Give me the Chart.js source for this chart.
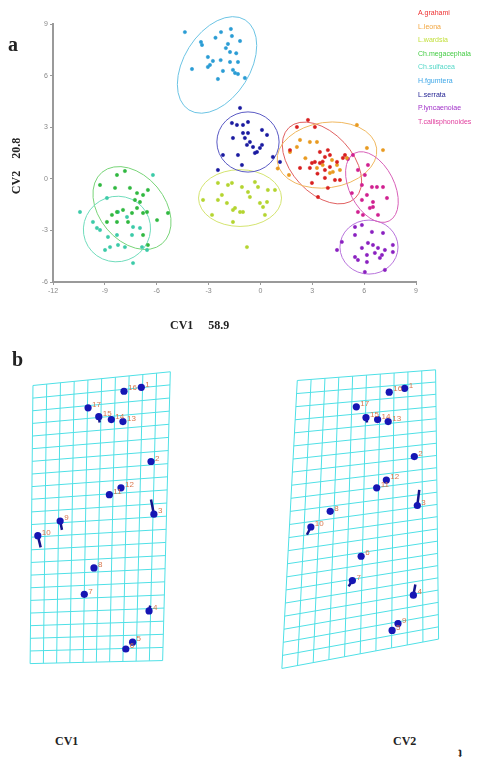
<!DOCTYPE html>
<html><head><meta charset="utf-8">
<script src="https://cdn.jsdelivr.net/npm/chart.js@4.4.1/dist/chart.umd.min.js"></script>
<style>
html,body{margin:0;padding:0;background:#fff;width:487px;height:760px;overflow:hidden;position:relative}
.lbl{position:absolute;font-family:"Liberation Serif","DejaVu Serif",serif;font-weight:bold;color:#222;white-space:pre;line-height:1}
canvas{position:absolute}
</style></head>
<body>
<canvas id="cA" width="487" height="340" style="left:0;top:0"></canvas>
<canvas id="cB1" width="243" height="330" style="left:0;top:360px"></canvas>
<canvas id="cB2" width="244" height="330" style="left:243px;top:360px"></canvas>
<div class="lbl" style="left:8px;top:34px;font-size:20px">a</div>
<div class="lbl" style="left:12px;top:349px;font-size:20px">b</div>
<div class="lbl" style="left:170px;top:319px;font-size:12px">CV1     58.9</div>
<div class="lbl" style="left:-22px;top:160px;font-size:12px;transform:rotate(-90deg);width:76px;text-align:center">CV2    20.8</div>
<div class="lbl" style="left:55px;top:735px;font-size:12px">CV1</div>
<div class="lbl" style="left:393px;top:735px;font-size:12px">CV2</div>
<div class="lbl" style="left:458px;top:747px;font-size:12px">ʇ</div>
<script>
// ---------- Panel a data ----------
const speciesNames = ["A.grahami","L.leona","L.wardsia","Ch.megacephala","Ch.sulfacea","H.fgumtera","L.serrata","P.lyncaenoiae","T.callisphonoides"];
const legendColors = ["#ee3030","#f2a640","#c4e040","#44cc44","#55d8c8","#40a8e8","#1c1c90","#a030c8","#e03c9c"];
const pointColors  = ["#d82020","#e89a20","#b4d430","#30b840","#3ccaa8","#2a9cd4","#1a1aa0","#8a20c0","#d02090"];
const ellipseColors= ["#e06060","#f0b860","#d4e470","#78d478","#70dcbc","#6cc4e4","#5a5ac4","#b874dc","#d860b8"];

const ptsGrahami = [[2.75,3.42],[2.11,3.01],[3.15,3.01],[1.71,1.67],[3.44,1.56],[3.90,1.67],[4.02,1.38],[3.73,1.27],[2.98,0.92],[3.15,0.98],[3.44,0.92],[2.86,0.63],[3.73,0.51],[4.02,0.69],[4.43,0.98],[4.77,1.21],[4.89,1.38],[3.73,0.05],[4.31,-0.07],[2.98,-0.24],[3.90,-0.53],[3.33,-1.06],[2.29,0.63],[4.60,-0.07],[3.6,1.0],[3.3,0.3]];
const ptsLeona = [[2.86,2.14],[3.27,2.14],[2.11,1.85],[1.71,1.56],[1.65,0.22],[4.14,1.09],[4.43,0.80],[4.60,0.51],[4.19,0.40],[6.16,1.79],[7.09,1.67],[5.58,3.13],[4.02,0.34],[3.27,0.63],[5.00,1.21],[1.0,0.6],[2.29,2.26],[3.6,0.8],[2.6,1.2]];
const ptsWardsia = [[-1.65,-0.24],[-1.07,-0.48],[-0.72,-0.77],[-0.14,-0.48],[0.43,-0.65],[0.84,-0.65],[-0.61,-1.06],[-0.03,-1.41],[0.15,-1.64],[-1.47,-1.70],[-1.01,-1.93],[0.38,-1.35],[-0.78,-3.97],[-2.46,-0.24],[-1.88,-0.36],[-2.23,-0.94],[-2.46,-1.23],[-1.94,-1.41],[-1.59,-1.81],[-1.18,-1.93],[-3.32,-1.23],[-2.80,-2.10],[-1.59,-2.51],[0.26,-2.10],[-0.32,-0.19]];
const ptsMegacephala = [[-7.84,0.45],[-8.30,0.22],[-9.28,-0.36],[-8.41,-0.53],[-7.14,-0.83],[-6.79,-0.94],[-6.51,-0.65],[-6.97,-1.35],[-6.56,-1.93],[-6.79,-1.99],[-7.14,-1.70],[-7.43,-1.99],[-8.30,-1.93],[-7.95,-1.81],[-8.59,-2.10],[-8.88,-2.51],[-8.30,-2.51],[-7.66,-2.51],[-5.98,-2.40],[-5.35,-1.99],[-6.79,-3.27],[-6.51,-3.85],[-7.26,-1.23],[-7.55,-0.53]];
const ptsSulfacea = [[-8.88,-1.12],[-9.69,-2.51],[-9.46,-2.86],[-8.82,-3.38],[-8.99,-4.14],[-8.70,-3.97],[-8.24,-3.85],[-7.84,-3.97],[-8.30,-3.27],[-7.43,-3.27],[-7.37,-2.80],[-6.97,-2.86],[-6.85,-3.97],[-7.37,-4.90],[-8.24,-1.93],[-7.72,-2.22],[-10.44,-1.93],[-6.22,0.22],[-9.28,-2.98],[-6.56,-4.14]];
const ptsFgumtera = [[-4.37,8.53],[-2.28,8.53],[-1.71,8.71],[-1.65,8.30],[-1.18,8.01],[-3.44,7.95],[-3.38,7.78],[-1.88,7.84],[-1.76,7.37],[-3.04,7.08],[-2.75,6.85],[-2.92,6.62],[-3.04,6.50],[-2.17,6.27],[-1.76,6.79],[-1.30,6.79],[-1.59,6.33],[-1.47,6.15],[-1.30,6.09],[-3.96,6.38],[-2.46,5.80],[-0.90,5.86],[-2.0,7.6],[-2.6,8.2],[-1.4,7.3],[-2.3,6.9]];
const ptsSerrata = [[-1.18,4.12],[-1.65,3.24],[-1.36,3.13],[-1.01,3.13],[0.09,2.84],[-1.59,2.37],[-1.01,2.66],[-0.72,2.66],[-0.90,2.37],[-0.61,2.14],[-0.78,1.97],[-0.43,1.85],[-0.20,1.56],[0.09,1.97],[-0.03,1.79],[0.38,2.55],[-1.30,1.38],[-0.32,1.50],[0.72,1.27],[1.13,0.98],[-1.07,0.80],[-2.17,1.38],[-2.46,0.51],[-0.72,3.30]];
const ptsLyncaenoiae = [[5.47,-2.80],[5.87,-2.69],[6.45,-3.09],[7.09,-3.15],[5.47,-3.27],[4.71,-3.67],[6.22,-3.73],[6.51,-3.85],[7.66,-3.85],[5.87,-4.02],[6.80,-4.02],[7.20,-4.14],[4.43,-4.14],[5.47,-4.55],[6.16,-4.43],[6.62,-4.31],[7.03,-4.43],[5.64,-4.72],[6.16,-4.84],[6.91,-4.60],[7.66,-4.26],[6.04,-5.42],[7.20,-5.30]];
const ptsCallisphonoides = [[5.35,1.38],[5.06,1.15],[5.64,0.51],[6.04,0.22],[6.22,0.80],[6.45,-0.48],[6.74,-0.48],[7.09,-0.48],[5.87,-0.36],[5.29,-0.83],[6.16,-0.94],[5.87,-1.23],[6.51,-1.35],[7.32,-1.12],[5.64,-1.93],[5.93,-2.10],[6.33,-1.70],[6.80,-2.10],[6.51,-1.64]];
const speciesPoints = [ptsGrahami,ptsLeona,ptsWardsia,ptsMegacephala,ptsSulfacea,ptsFgumtera,ptsSerrata,ptsLyncaenoiae,ptsCallisphonoides];

// confidence ellipses: centre, semi-axes (data units), tilt (degrees)
const ellipseCx = [3.56,3.85,-1.18,-7.43,-8.30,-2.51,-0.72,6.28,6.45];
const ellipseCy = [0.92,1.38,-1.12,-1.70,-2.92,6.62,2.14,-3.97,-0.48];
const ellipseRx = [2.8,2.9,2.4,2.7,1.95,3.07,1.8,1.68,2.2];
const ellipseRy = [1.75,1.9,1.65,1.9,1.9,1.92,1.75,1.57,1.3];
const ellipseAngle = [-47,8,0,-50,20,58,0,0,-63];

const xTicks = [-12,-9,-6,-3,0,3,6,9];
const yTicks = [-6,-3,0,3,6,9];

const ellipsePlugin = {
  id:'ellipses',
  beforeDatasetsDraw(chart){
    const {ctx, scales:{x,y}} = chart;
    ctx.save();
    ctx.lineWidth = 1;
    for(let i=0;i<ellipseCx.length;i++){
      const cx = x.getPixelForValue(ellipseCx[i]), cy = y.getPixelForValue(ellipseCy[i]);
      const rx = Math.abs(x.getPixelForValue(ellipseCx[i]+ellipseRx[i]) - cx);
      const ry = Math.abs(y.getPixelForValue(ellipseCy[i]+ellipseRy[i]) - cy);
      ctx.strokeStyle = ellipseColors[i];
      ctx.beginPath();
      ctx.ellipse(cx, cy, rx, ry, -ellipseAngle[i]*Math.PI/180, 0, Math.PI*2);
      ctx.stroke();
    }
    ctx.restore();
  }
};
const legendPlugin = {
  id:'sideLegend',
  afterDraw(chart){
    const ctx = chart.ctx;
    ctx.save();
    ctx.font = '7px "Liberation Sans", Arial, sans-serif';
    ctx.textBaseline = 'middle';
    chart.data.datasets.forEach((ds,i)=>{
      ctx.fillStyle = legendColors[i];
      ctx.fillText(ds.label, 418, 13 + i*13.6);
    });
    ctx.restore();
  }
};

new Chart(document.getElementById('cA'), {
  type:'scatter',
  data:{ datasets: speciesPoints.map((pts,i)=>({
    label: speciesNames[i],
    data: pts.map(p=>({x:p[0], y:p[1]})),
    backgroundColor: pointColors[i],
    borderColor: pointColors[i],
    pointRadius: 1.7,
    borderWidth: 0.5
  }))},
  options:{
    responsive:false, animation:false,
    layout:{padding:{left:0,right:71,top:24,bottom:0}},
    plugins:{legend:{display:false}, tooltip:{enabled:false}},
    scales:{
      x:{type:'linear', min:-12, max:9,
         afterBuildTicks(s){ s.ticks = xTicks.map(v=>({value:v})); },
         afterFit(s){ s.height = 58; },
         grid:{drawOnChartArea:false, drawTicks:true, tickLength:3, color:'#9a9a9a'},
         border:{color:'#9a9a9a', width:2},
         ticks:{font:{size:7, family:'"Liberation Sans", Arial'}, color:'#888', padding:2, maxRotation:0}},
      y:{type:'linear', min:-6, max:9,
         afterBuildTicks(s){ s.ticks = yTicks.map(v=>({value:v})); },
         afterFit(s){ s.width = 53; },
         grid:{drawOnChartArea:false, drawTicks:true, tickLength:3, color:'#9a9a9a'},
         border:{color:'#9a9a9a', width:2},
         ticks:{font:{size:7, family:'"Liberation Sans", Arial'}, color:'#888', padding:2}}
    }
  },
  plugins:[ellipsePlugin, legendPlugin]
});

// ---------- Panel b data (grid-cell units) ----------
const landmarkLabels = ["1","16","17","15","14","13","2","12","11","3","9","10","8","7","4","5","6"];
const cv1X = [10.52,9.19,6.44,7.26,8.22,9.11,11.26,8.96,8.07,11.48,4.30,2.59,6.89,6.15,11.11,9.85,9.33];
const cv1Y = [22.67,22.37,21.11,20.44,20.22,20.07,17.04,15.04,14.52,13.04,12.52,11.41,8.96,6.96,5.70,3.33,2.81];
const cv2X = [12.07,10.89,8.37,9.11,10.0,10.81,12.81,10.67,9.93,13.04,11.56,4.89,6.37,8.07,12.74,11.11,8.74];
const cv2Y = [22.59,22.30,21.19,20.37,20.22,20.07,17.41,15.63,15.04,13.70,4.74,12.07,13.26,8.0,6.89,4.22,9.85];
// shift vectors: [landmark index, end x, end y]
const cv1Vectors = [[3,7.33,20.0],[9,11.26,14.15],[10,4.44,11.85],[11,2.81,10.52],[14,11.2,6.1]];
const cv2Vectors = [[3,9.19,20.0],[9,13.19,14.89],[11,4.59,11.48],[13,7.78,7.56],[14,12.89,7.70],[10,11.7,4.95]];
// deformation grid corners TL, TR, BR, BL and cell counts
const cv1Corners = [[2.22,22.81],[12.74,23.85],[12.15,1.93],[2.0,1.70]];
const cv2Corners = [[3.85,23.19],[14.44,24.0],[14.67,3.56],[2.67,1.33]];
const gridCols = 10, gridRows = 22;

function gridPlugin(corners){
  return {
    id:'defGrid',
    beforeDatasetsDraw(chart){
      const {ctx, scales:{x,y}} = chart;
      const P = (u,v)=>{
        const [tl,tr,br,bl] = corners;
        const X = (1-u)*(1-v)*tl[0] + u*(1-v)*tr[0] + u*v*br[0] + (1-u)*v*bl[0];
        const Y = (1-u)*(1-v)*tl[1] + u*(1-v)*tr[1] + u*v*br[1] + (1-u)*v*bl[1];
        return [x.getPixelForValue(X), y.getPixelForValue(Y)];
      };
      ctx.save();
      ctx.strokeStyle = '#4fe0e6';
      ctx.lineWidth = 1;
      ctx.beginPath();
      for(let i=0;i<=gridCols;i++){
        const a=P(i/gridCols,0), b=P(i/gridCols,1);
        ctx.moveTo(a[0],a[1]); ctx.lineTo(b[0],b[1]);
      }
      for(let j=0;j<=gridRows;j++){
        const a=P(0,j/gridRows), b=P(1,j/gridRows);
        ctx.moveTo(a[0],a[1]); ctx.lineTo(b[0],b[1]);
      }
      ctx.stroke();
      ctx.restore();
    }
  };
}
const labelPlugin = {
  id:'lmLabels',
  afterDatasetsDraw(chart){
    const {ctx} = chart;
    const meta = chart.getDatasetMeta(0);
    ctx.save();
    ctx.font = '8px "Liberation Sans", Arial, sans-serif';
    ctx.fillStyle = '#d9784e';
    ctx.textBaseline = 'middle';
    meta.data.forEach((el,i)=>{
      ctx.fillText(landmarkLabels[i], el.x+4, el.y-3);
    });
    ctx.restore();
  }
};

function makeGridChart(id, xs, ys, vectors, corners, xmax){
  const datasets = [{
    data: xs.map((v,i)=>({x:v, y:ys[i]})),
    backgroundColor:'#1616b4', borderColor:'#1616b4', pointRadius:3.6, borderWidth:0, order:0
  }];
  vectors.forEach(([k,ex,ey])=>{
    datasets.push({
      data:[{x:xs[k],y:ys[k]},{x:ex,y:ey}],
      showLine:true, borderColor:'#14148c', borderWidth:2.5, pointRadius:0, order:1
    });
  });
  new Chart(document.getElementById(id), {
    type:'scatter',
    data:{datasets},
    options:{
      responsive:false, animation:false,
      layout:{padding:0},
      plugins:{legend:{display:false}, tooltip:{enabled:false}},
      scales:{
        x:{type:'linear', min:0, max:xmax, display:false},
        y:{type:'linear', min:0, max:24.44, display:false}
      }
    },
    plugins:[gridPlugin(corners), labelPlugin]
  });
}
makeGridChart('cB1', cv1X, cv1Y, cv1Vectors, cv1Corners, 18);
makeGridChart('cB2', cv2X, cv2Y, cv2Vectors, cv2Corners, 18.07);
</script>
</body></html>
